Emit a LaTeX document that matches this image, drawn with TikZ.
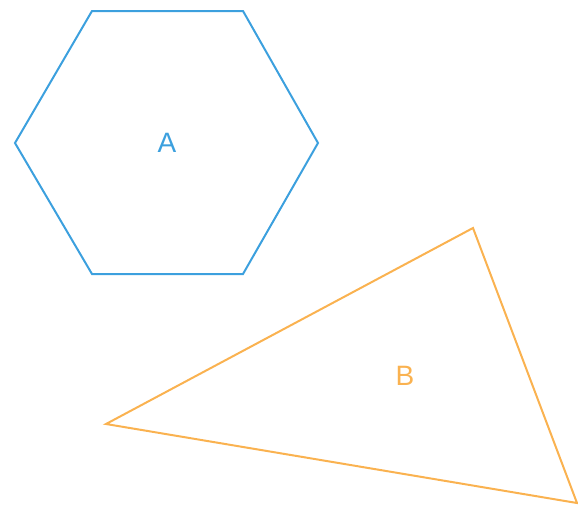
\documentclass[tikz,border=0pt]{standalone}
\usepackage{fontspec}
\setmainfont{Liberation Sans}
\usepackage{tikz}
\usetikzlibrary{positioning,calc}

\definecolor{hexblue}{RGB}{60,160,222}
\definecolor{triorange}{RGB}{250,178,80}

\begin{document}
\begin{tikzpicture}[
  x=1pt, y=-1pt,
  outline/.style={line width=2pt, line join=miter},
  tag/.style={font=\fontsize{28}{28}\selectfont}
]
  \useasboundingbox (0,0) rectangle (578,507);

  % hexagon A
  \coordinate (h1) at (92,11);
  \coordinate (h2) at (243,11);
  \coordinate (h3) at (318,143);
  \coordinate (h4) at (243,274);
  \coordinate (h5) at (92,274);
  \coordinate (h6) at (15,143);
  \draw[outline, hexblue] (h1) -- (h2) -- (h3) -- (h4) -- (h5) -- (h6) -- cycle;
  \node[tag, text=hexblue] (labelA) at (167,143) {A};

  % triangle B
  \coordinate (t1) at (473,228);
  \coordinate (t2) at (577,503);
  \coordinate (t3) at (106,424);
  \draw[outline, triorange] (t1) -- (t2) -- (t3) -- cycle;
  \node[tag, text=triorange] (labelB) at (405,376) {B};
\end{tikzpicture}
\end{document}
